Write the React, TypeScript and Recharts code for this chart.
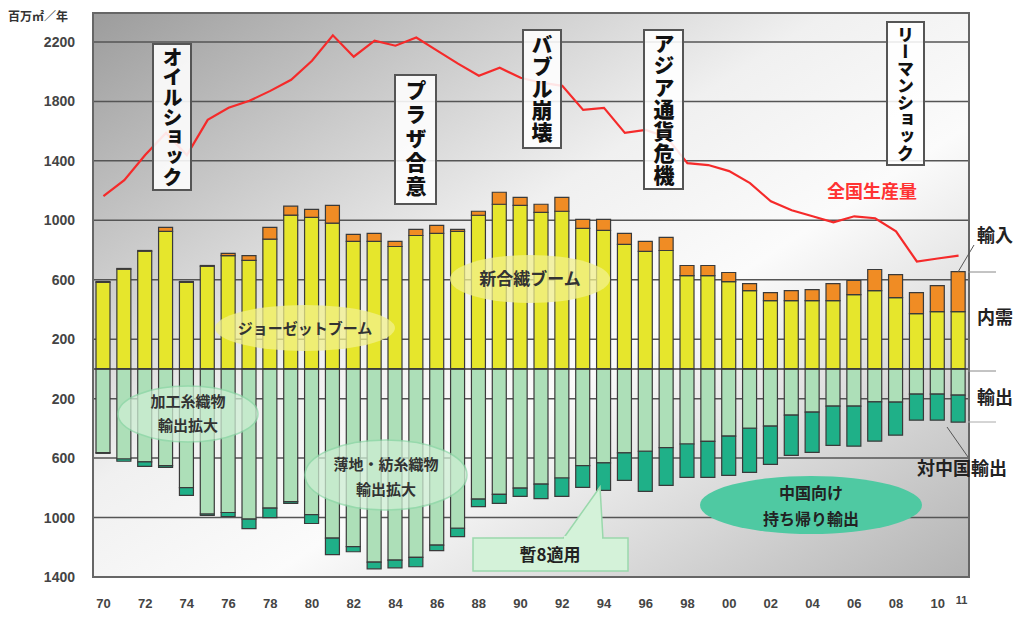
import React from "react";
import {
  ComposedChart, Bar, Line, XAxis, YAxis, CartesianGrid, ReferenceLine,
} from "recharts";

const YEARS = [
  1970, 1971, 1972, 1973, 1974, 1975, 1976, 1977, 1978, 1979,
  1980, 1981, 1982, 1983, 1984, 1985, 1986, 1987, 1988, 1989,
  1990, 1991, 1992, 1993, 1994, 1995, 1996, 1997, 1998, 1999,
  2000, 2001, 2002, 2003, 2004, 2005, 2006, 2007, 2008, 2009,
  2010, 2011,
];
const X_LABELS = [
  1970, 1972, 1974, 1976, 1978, 1980, 1982, 1984, 1986, 1988, 1990,
  1992, 1994, 1996, 1998, 2000, 2002, 2004, 2006, 2008, 2010, 2011,
];
const Y_TICKS = [-1400, -1000, -600, -200, 200, 600, 1000, 1400, 1800, 2200];

// 内需 (domestic demand)
const DOMESTIC = [
  583, 671, 792, 926, 583, 691, 763, 730, 873, 1035,
  1020, 981, 858, 858, 824, 898, 912, 925, 1034, 1108,
  1101, 1054, 1061, 946, 932, 838, 791, 797, 628, 628,
  588, 527, 459, 459, 459, 459, 500, 527, 480, 372,
  385, 385,
];
// 輸入 (imports)
const IMPORTS = [
  5, 5, 5, 27, 5, 5, 14, 33, 80, 60,
  54, 120, 47, 54, 34, 41, 54, 14, 27, 81,
  54, 54, 94, 61, 75, 74, 67, 88, 68, 68,
  61, 47, 55, 68, 75, 115, 95, 142, 155, 142,
  176, 270,
];
// 輸出 (exports, other than China)
const EXPORT_OTHER = [
  563, 606, 625, 650, 799, 976, 966, 1011, 937, 893,
  980, 1138, 1196, 1300, 1286, 1268, 1185, 1072, 876, 844,
  802, 775, 734, 651, 632, 565, 554, 530, 505, 487,
  452, 399, 385, 311, 291, 250, 250, 222, 223, 169,
  169, 176,
];
// 対中国輸出 (exports to China)
const EXPORT_CHINA = [
  5, 15, 30, 12, 52, 10, 27, 63, 63, 12,
  60, 112, 34, 45, 52, 63, 38, 56, 50, 61,
  56, 97, 124, 146, 185, 185, 270, 254, 225, 243,
  264, 297, 257, 270, 270, 264, 270, 264, 223, 176,
  176, 182,
];
// 全国生産量 (national production)
const PRODUCTION = [
  1162, 1270, 1439, 1588, 1439, 1676, 1757, 1804, 1871, 1946,
  2074, 2245, 2101, 2209, 2175, 2230, 2142, 2054, 1973, 2027,
  1959, 1926, 1905, 1743, 1757, 1588, 1608, 1560, 1385, 1372,
  1331, 1250, 1128, 1068, 1027, 986, 1027, 1014, 926, 723,
  743, 763,
];

const data = YEARS.map((year, i) => ({
  year,
  domestic: DOMESTIC[i],
  imports: IMPORTS[i],
  exportOther: -EXPORT_OTHER[i],
  exportChina: -EXPORT_CHINA[i],
  production: PRODUCTION[i],
}));

const NUM_FONT = "'Liberation Sans', Arial, sans-serif";
const JP_FONT = "'Noto Sans CJK JP', 'Noto Sans', sans-serif";

const XTick = (props: any) => {
  const { x, y, payload } = props;
  const yr = payload.value as number;
  if (!X_LABELS.includes(yr)) return <g />;
  const last = yr === 2011;
  return (
    <text
      x={x + (last ? 3 : 0)}
      y={y + (last ? 27 : 31)}
      textAnchor="middle"
      fontSize={last ? 11 : 13}
      fontWeight="bold"
      fontFamily={NUM_FONT}
      fill="#444"
    >
      {String(yr).slice(2)}
    </text>
  );
};

const boxStyle = (left: number, top: number, w: number, h: number, fs: number, ls = 0): React.CSSProperties => ({
  position: "absolute", left, top, width: w, height: h, boxSizing: "border-box",
  border: "2px solid #555", background: "rgba(255,255,255,0.88)",
  writingMode: "vertical-rl", textAlign: "center", lineHeight: `${w - 4}px`,
  whiteSpace: "nowrap", overflow: "hidden",
  fontFamily: JP_FONT, fontWeight: 900, fontSize: fs, letterSpacing: ls, color: "#111",
});

const jp = { fontFamily: JP_FONT, fontWeight: 700 } as const;

export default function App() {
  return (
    <div style={{ position: "absolute", left: 0, top: 0, width: 1018, height: 617, background: "#fff" }}>
      <ComposedChart
        width={1018}
        height={617}
        data={data}
        stackOffset="sign"
        margin={{ top: 13, right: 49, left: 0, bottom: 0 }}
      >
        <defs>
          <linearGradient id="plotBg" x1="0" y1="0" x2="1" y2="1">
            <stop offset="0%" stopColor="#9c9c9c" />
            <stop offset="42%" stopColor="#f0f0f0" />
            <stop offset="60%" stopColor="#fbfbfb" />
            <stop offset="100%" stopColor="#b4b4b4" />
          </linearGradient>
        </defs>
        <CartesianGrid vertical={false} stroke="#555" strokeWidth={1.5} fill="url(#plotBg)" fillOpacity={1} />
        <XAxis
          dataKey="year"
          interval={0}
          tick={<XTick />}
          tickLine={false}
          axisLine={false}
          tickSize={0}
          tickMargin={0}
          height={40}
        />
        <YAxis
          domain={[-1400, 2395]}
          ticks={Y_TICKS}
          allowDataOverflow
          tickFormatter={(v) => String(Math.abs(Number(v)))}
          tick={{ fontSize: 14, fontWeight: "bold", fill: "#444", fontFamily: NUM_FONT }}
          tickLine={false}
          axisLine={false}
          tickSize={0}
          tickMargin={18}
          width={93}
        />
        <Bar dataKey="domestic" stackId="s" fill="#e6e62c" stroke="#3a3a3a" strokeWidth={1.2} barSize={14} isAnimationActive={false} />
        <Bar dataKey="imports" stackId="s" fill="#f08c24" stroke="#3a3a3a" strokeWidth={1.2} barSize={14} isAnimationActive={false} />
        <Bar dataKey="exportOther" stackId="s" fill="#addfb8" stroke="#3a3a3a" strokeWidth={1.2} barSize={14} isAnimationActive={false} />
        <Bar dataKey="exportChina" stackId="s" fill="#1fb088" stroke="#3a3a3a" strokeWidth={1.2} barSize={14} isAnimationActive={false} />
        <ReferenceLine y={0} stroke="#3a3a3a" strokeWidth={1.5} />
        <Line dataKey="production" type="linear" stroke="#f52a2a" strokeWidth={2.2} dot={false} isAnimationActive={false} />
      </ComposedChart>

      <svg width={1018} height={617} style={{ position: "absolute", left: 0, top: 0, pointerEvents: "none" }}>
        <rect x={93} y={13} width={876} height={564} fill="none" stroke="#666" strokeWidth={2} />

        <ellipse cx={305} cy={328} rx={90} ry={23} fill="#f1f08c" opacity={0.75} />
        <text x={305} y={334} textAnchor="middle" fontSize={15} fill="#333" {...jp}>ジョーゼットブーム</text>

        <ellipse cx={530} cy={279} rx={80} ry={24} fill="#f1f08c" opacity={0.75} />
        <text x={530} y={285} textAnchor="middle" fontSize={17} fill="#333" {...jp}>新合繊ブーム</text>

        <ellipse cx={188} cy={414} rx={70} ry={28} fill="#cdeed3" opacity={0.75} stroke="#8fd8a8" strokeWidth={1.5} />
        <text x={188} y={407} textAnchor="middle" fontSize={15} fill="#333" {...jp}>加工糸織物</text>
        <text x={188} y={431} textAnchor="middle" fontSize={15} fill="#333" {...jp}>輸出拡大</text>

        <ellipse cx={386} cy={475} rx={81} ry={35} fill="#cdeed3" opacity={0.75} stroke="#8fd8a8" strokeWidth={1.5} />
        <text x={386} y={470} textAnchor="middle" fontSize={15} fill="#333" {...jp}>薄地・紡糸織物</text>
        <text x={386} y={495} textAnchor="middle" fontSize={15} fill="#333" {...jp}>輸出拡大</text>

        <ellipse cx={811} cy={505} rx={111} ry={29} fill="#4fc9a2" />
        <text x={811} y={499} textAnchor="middle" fontSize={16} fill="#222" {...jp}>中国向け</text>
        <text x={811} y={525} textAnchor="middle" fontSize={16} fill="#222" {...jp}>持ち帰り輸出</text>

        <polygon points="563,539 600,487 603,539" fill="#d4f2d9" stroke="#9ad8ac" strokeWidth={1.5} />
        <rect x={473} y={538} width={155} height={33} fill="#d4f2d9" stroke="#9ad8ac" strokeWidth={1.5} />
        <rect x={564} y={536} width={38} height={4} fill="#d4f2d9" />
        <text x={550} y={561} textAnchor="middle" fontSize={17} fill="#222" {...jp}>暫8適用</text>

        <text x={872} y={198} textAnchor="middle" fontSize={18} fill="#ff3333" {...jp}>全国生産量</text>

        <text x={8} y={21} fontSize={12} fill="#333" {...jp}>百万㎡／年</text>

        <text x={977} y={242} fontSize={18} fill="#222" {...jp}>輸入</text>
        <text x={977} y={324} fontSize={18} fill="#222" {...jp}>内需</text>
        <text x={977} y={404} fontSize={18} fill="#222" {...jp}>輸出</text>
        <text x={917} y={475} fontSize={18} fill="#222" {...jp}>対中国輸出</text>

        <line x1={974} y1={245} x2={958} y2={272} stroke="#555" strokeWidth={1} />
        <line x1={968} y1={272} x2={996} y2={272} stroke="#888" strokeWidth={1} />
        <line x1={968} y1={371} x2={996} y2={371} stroke="#888" strokeWidth={1} />
        <line x1={968} y1={422} x2={996} y2={422} stroke="#aaa" strokeWidth={1} />
        <line x1={947} y1={427} x2={968} y2={457} stroke="#555" strokeWidth={1} />
      </svg>

      <div style={boxStyle(152, 43, 40, 148, 20)}>オイルショック</div>
      <div style={boxStyle(394, 74, 43, 131, 21, 3)}>プラザ合意</div>
      <div style={boxStyle(522, 29, 40, 120, 21, 1)}>バブル崩壊</div>
      <div style={boxStyle(643, 29, 41, 161, 21, 1)}>アジア通貨危機</div>
      <div style={boxStyle(886, 21, 39, 145, 17)}>リーマンショック</div>
    </div>
  );
}
